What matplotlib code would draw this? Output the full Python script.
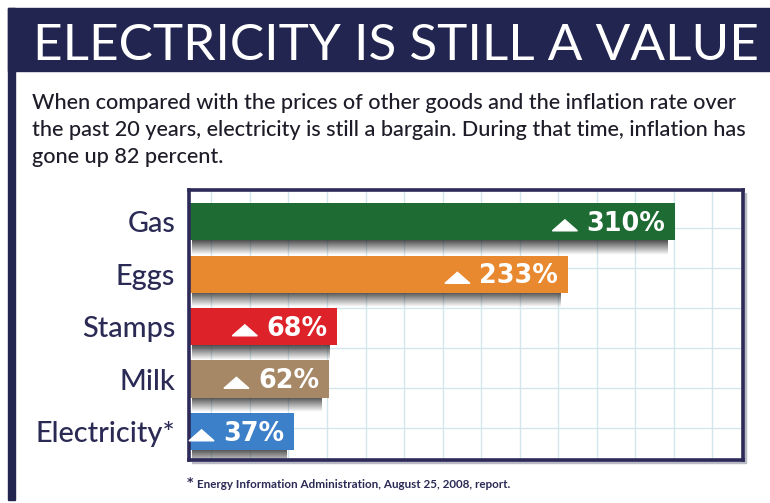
import matplotlib
matplotlib.use('Agg')
import matplotlib.pyplot as plt
import numpy as np
from matplotlib import font_manager
from matplotlib.patches import Rectangle, Polygon

# ---------------- data ----------------
categories = ['Gas', 'Eggs', 'Stamps', 'Milk', 'Electricity*']
increase_pct = [310, 233, 68, 62, 37]
bar_colors = ['#1e6c34', '#e8882f', '#dd2229', '#a68866', '#3b80c8']
value_labels = ['310%', '233%', '68%', '62%', '37%']
title = 'ELECTRICITY IS STILL A VALUE'
intro_lines = [
    'When compared with the prices of other goods and the inflation rate over',
    'the past 20 years, electricity is still a bargain. During that time, inflation has',
    'gone up 82 percent.',
]
footnote = 'Energy Information Administration, August 25, 2008, report.'

# ---------------- fonts ----------------
names = {f.name for f in font_manager.fontManager.ttflist}
if 'Liberation Sans Narrow' in names:
    NARROW = ['Liberation Sans Narrow', 'DejaVu Sans']
elif 'DejaVu Sans Condensed' in names:
    NARROW = ['DejaVu Sans Condensed', 'DejaVu Sans']
else:
    NARROW = ['Lato', 'DejaVu Sans']
LABEL_FONT = ['Lato', 'DejaVu Sans'] if 'Lato' in names else ['DejaVu Sans']

W, H = 770, 503
fig = plt.figure(figsize=(W / 100, H / 100), dpi=100)
fig.patch.set_facecolor('white')


def fx(x):
    return x / W


def fy(y):
    return 1 - y / H


NAVY = '#22254f'
TEXTNAVY = '#2b2a55'

# header band and left frame strip
fig.add_artist(Rectangle((fx(8), fy(71)), fx(770 - 8), (71 - 8) / H,
                         transform=fig.transFigure, color=NAVY, zorder=-2))
fig.add_artist(Rectangle((fx(8), fy(500)), fx(7), (500 - 8) / H,
                         transform=fig.transFigure, color=NAVY, zorder=-2))

renderer = fig.canvas.get_renderer()


def fit_width(t, target):
    w = t.get_window_extent(renderer).width
    t.set_fontsize(t.get_fontsize() * target / w)


# title
t_title = fig.text(fx(33), fy(60), title, color='white', fontsize=30,
                   va='baseline', ha='left', family=NARROW, fontweight='normal')
fit_width(t_title, 723)

# intro text
intro_texts = []
for i, line in enumerate(intro_lines):
    t = fig.text(fx(32), fy(109 + 27 * i), line, color='#1e1c28', fontsize=14,
                 va='baseline', ha='left', family=NARROW, fontweight='medium')
    intro_texts.append(t)
fit_width(intro_texts[0], 708)
for t in intro_texts[1:]:
    t.set_fontsize(intro_texts[0].get_fontsize())

# ---------------- chart box ----------------
box_l, box_r, box_t, box_b = 188.5, 743, 189.5, 460
# drop shadow of box
fig.add_artist(Rectangle((fx(box_l + 3), fy(box_b + 3)), (box_r - box_l) / W, (box_b - box_t) / H,
                         transform=fig.transFigure, color='#b9b9c4', zorder=-1))
ax = fig.add_axes([fx(box_l), fy(box_b), (box_r - box_l) / W, (box_b - box_t) / H])
ax.set_zorder(1)
ax.set_facecolor('white')

BASE = -38.6
XMAX = 358.6
YLIM = (4.543, -0.61)
PX_PER_UNIT = 1.396
PX_PER_ROW = 52.5

y = np.arange(len(categories))
widths = np.array(increase_pct, dtype=float) - BASE
bar_h = 0.705

# grid
grid_x = 60.6 + 27.6 * np.arange(-3, 11)
grid_y = 0.124 + 0.762 * np.arange(0, 6)
ax.set_xticks(grid_x, minor=True)
ax.set_yticks(grid_y, minor=True)
ax.set_xticks([])
ax.grid(which='minor', color='#d3e6ee', lw=1.0, zorder=0)
ax.tick_params(which='minor', length=0)
ax.set_axisbelow(True)

# soft drop shadows beneath bars (vertical gradient)
grad = np.zeros((32, 2, 4))
grad[..., :3] = 0.18
grad[..., 3] = np.linspace(0.9, 0.0, 32)[:, None]
for yi, v in zip(y, increase_pct):
    top = yi + bar_h / 2 - 0.02
    ax.imshow(grad, extent=[BASE + 3 / PX_PER_UNIT, v - 8 / PX_PER_UNIT, top + 0.30, top],
              aspect='auto', interpolation='bilinear', zorder=2)

bars = ax.barh(y, widths, left=BASE, height=bar_h, color=bar_colors, zorder=3, lw=0)
ax.set_xlim(BASE, XMAX)
ax.set_ylim(*YLIM)

# category labels
ax.set_yticks(y)
ax.set_yticklabels(categories)
ax.tick_params(axis='y', which='major', length=0, pad=9.5)
for lab in ax.get_yticklabels():
    lab.set_color(TEXTNAVY)
    lab.set_fontfamily(LABEL_FONT)
    lab.set_fontweight('medium')
    lab.set_fontsize(20)

for s in ax.spines.values():
    s.set_color('#2d2a5a')
    s.set_linewidth(2.6)
    s.set_zorder(5)

fig.canvas.draw()
renderer = fig.canvas.get_renderer()
# fit label font so "Electricity*" is 140 px wide
elab = ax.get_yticklabels()[-1]
wl = elab.get_window_extent(renderer).width
size = 20 * 140 / wl
for lab in ax.get_yticklabels():
    lab.set_fontsize(size)

# value labels with triangle markers
for yi, v, lab in zip(y, increase_pct, value_labels):
    t = ax.text(v - 10 / PX_PER_UNIT, yi + 9.3 / PX_PER_ROW, lab, color='white', fontsize=18.4,
                fontweight='bold', family='DejaVu Sans', ha='right', va='baseline', zorder=6)
    fig.canvas.draw()
    bb = t.get_window_extent(renderer)
    base_y = ax.transData.transform((v, yi))[1] - 9.3
    tri_r = bb.x0 - 9
    tri = Polygon([[tri_r - 25, base_y], [tri_r, base_y], [tri_r - 12.5, base_y + 11]],
                  closed=True, transform=None, color='white', zorder=10)
    fig.add_artist(tri)

# footnote
fig.text(fx(187), fy(486), '*', color=TEXTNAVY, fontsize=9, fontweight='bold',
         va='baseline', ha='left', family='DejaVu Sans')
t_fn = fig.text(fx(197), fy(488), footnote, color=TEXTNAVY, fontsize=7,
                fontweight='bold', va='baseline', ha='left', family=NARROW)
fit_width(t_fn, 316)

fig.savefig('out.png', dpi=100)
